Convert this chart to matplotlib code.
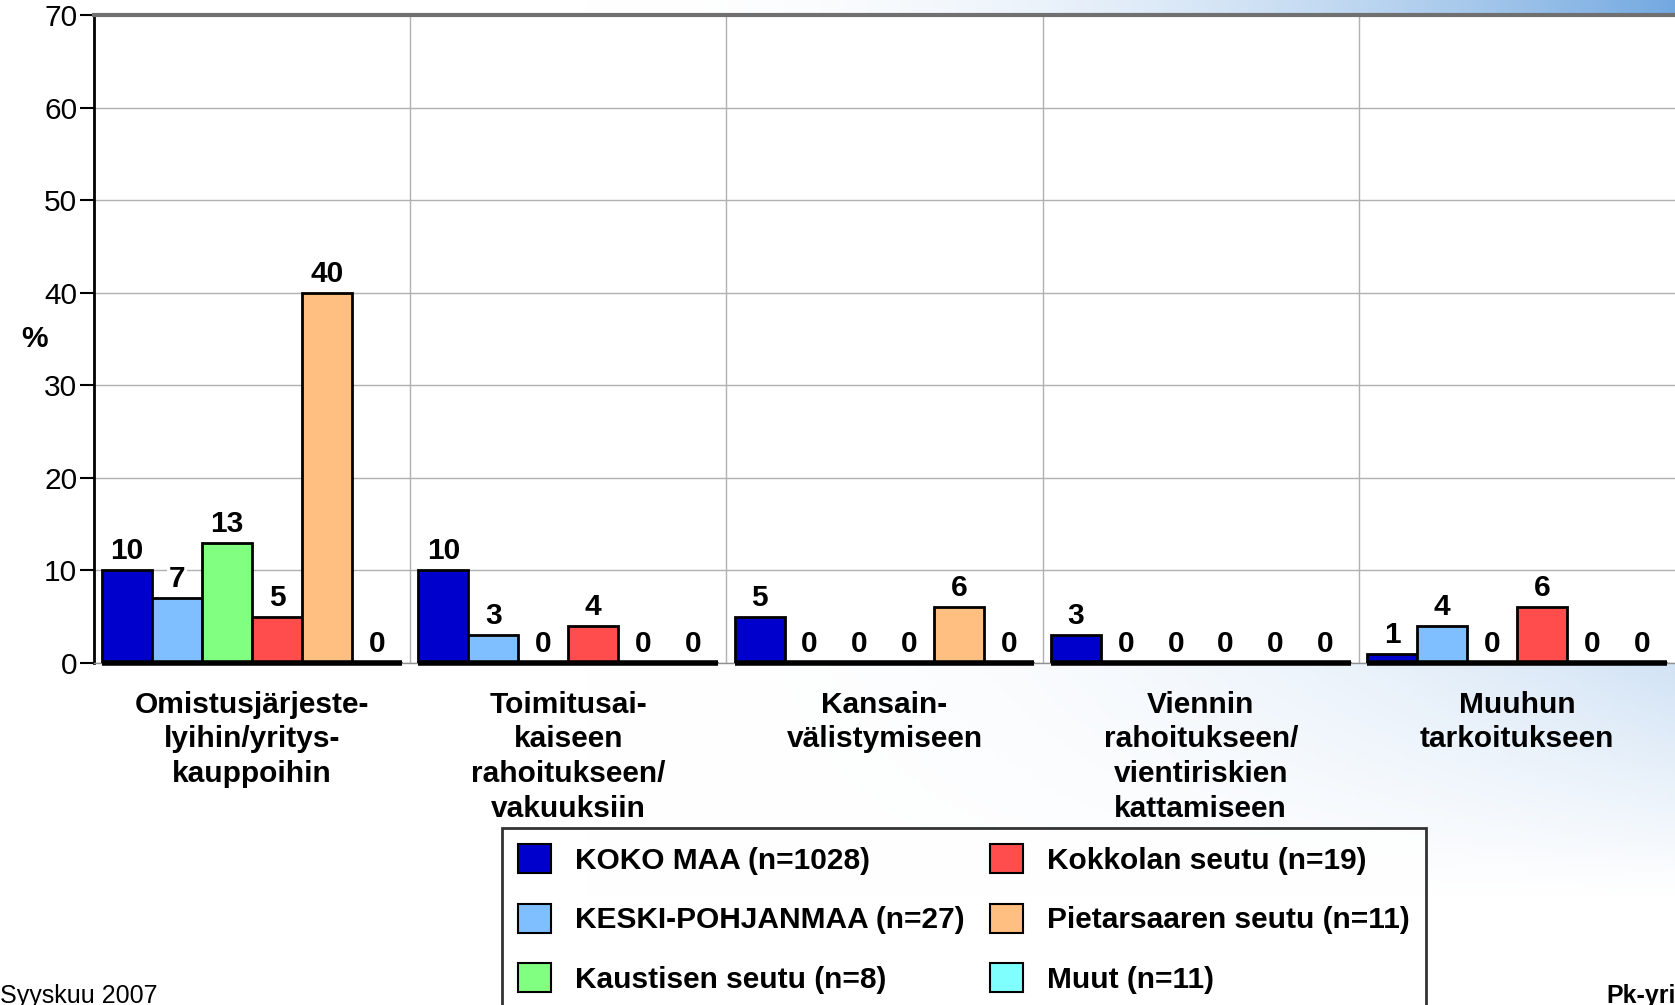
import numpy as np
import matplotlib
matplotlib.use("Agg")
from matplotlib import pyplot as plt
from matplotlib.patches import Patch

plt.rcParams['font.family'] = ['Liberation Sans', 'DejaVu Sans']

# data
categories = [
    "Omistusjärjeste-\nlyihin/yritys-\nkauppoihin",
    "Toimitusai-\nkaiseen\nrahoitukseen/\nvakuuksiin",
    "Kansain-\nvälistymiseen",
    "Viennin\nrahoitukseen/\nvientiriskien\nkattamiseen",
    "Muuhun\ntarkoitukseen",
]
series_names = [
    "KOKO MAA (n=1028)",
    "KESKI-POHJANMAA (n=27)",
    "Kaustisen seutu (n=8)",
    "Kokkolan seutu (n=19)",
    "Pietarsaaren seutu (n=11)",
    "Muut (n=11)",
]
koko_maa = [10, 10, 5, 3, 1]
keski_pohjanmaa = [7, 3, 0, 0, 4]
kaustinen = [13, 0, 0, 0, 0]
kokkola = [5, 4, 0, 0, 6]
pietarsaari = [40, 0, 6, 0, 0]
muut = [0, 0, 0, 0, 0]
yticks = [0, 10, 20, 30, 40, 50, 60, 70]

colors = ['#0000CC', '#80BFFF', '#80FF80', '#FF4D4D', '#FFBF80', '#80FFFF']
all_series = [koko_maa, keski_pohjanmaa, kaustinen, kokkola, pietarsaari, muut]

FS = 21.5
W, H = 1675, 1005
fig = plt.figure(figsize=(W / 100, H / 100), dpi=100)

# background gradient (slide template)
bg = fig.add_axes([0, 0, 1, 1], zorder=-10)
gx, gy = np.meshgrid(np.linspace(0, 1, 400), np.linspace(0, 1, 240))
t = np.clip((gx - 0.35) / 0.65, 0, 1) ** 2.2 * np.clip(1.25 - gy * 1.4, 0, 1)
t = t + np.clip((gx - 0.86) / 0.14, 0, 1) ** 2 * np.exp(-((gy - 0.34) / 0.09) ** 2) * 0.45
t = np.clip(t, 0, 1)
blue = np.array([0.45, 0.66, 0.88])
img = (1 - t[..., None]) * np.ones(3) + t[..., None] * blue
bg.imshow(img, extent=[0, 1, 0, 1], aspect='auto', origin='upper')
bg.set_axis_off()

ax = fig.add_axes([94 / W, 342 / H, 1 - 94 / W, 648 / H])
ax.set_facecolor('white')

x = np.arange(len(categories))
bw = 0.158
for i, (vals, col) in enumerate(zip(all_series, colors)):
    pos = x + (i - 2.5) * bw
    ax.bar(pos, vals, width=bw, color=col, edgecolor='black', linewidth=2, zorder=3)
    for p, v in zip(pos, vals):
        ax.annotate(str(v), (p, v), xytext=(0, 8), textcoords='offset points',
                    ha='center', va='baseline', fontsize=FS, fontweight='bold',
                    zorder=4,
                    bbox=dict(boxstyle='square,pad=0.05', fc='white', ec='none'))

# thick base line under each group
ax.hlines(np.zeros(len(categories)), x - 3 * bw, x + 3 * bw, colors='black',
          linewidth=4, zorder=3.5, clip_on=False)

ax.set_xlim(-0.5, len(categories) - 0.5)
ax.set_ylim(0, 70)
ax.set_yticks(yticks)
ax.tick_params(axis='y', labelsize=FS, length=10, width=1.5, pad=2)
ax.set_xticks(x)
ax.set_xticklabels(categories, fontsize=FS, fontweight='bold', linespacing=1.3)
ax.tick_params(axis='x', length=0, pad=20)

ax.set_xticks(np.arange(0.5, len(categories) - 0.5), minor=True)
ax.grid(True, axis='y', color='#b0b0b0', linewidth=1, zorder=0)
ax.grid(True, axis='x', which='minor', color='#b0b0b0', linewidth=1, zorder=0)
ax.tick_params(axis='x', which='minor', length=0)

ax.spines['left'].set_linewidth(2)
ax.spines['top'].set_color('#707070')
ax.spines['top'].set_linewidth(3)
ax.spines['right'].set_visible(False)
ax.spines['bottom'].set_color('#909090')
ax.spines['bottom'].set_linewidth(1)

fig.text(21 / W, 1 - 339 / H, "%", fontsize=FS, fontweight='bold', ha='left', va='center')

handles = [Patch(facecolor=c, edgecolor='black', linewidth=1.5) for c in colors]
leg = fig.legend(handles, series_names, ncol=2, loc='upper left',
                 bbox_to_anchor=(502 / W, 1 - 828 / H),
                 prop=dict(size=FS, weight='bold'), frameon=True, fancybox=False,
                 handlelength=1.1, handleheight=1.1, handletextpad=0.8,
                 labelspacing=0.97, columnspacing=0.85, borderpad=0.55, borderaxespad=0)
leg.get_frame().set_edgecolor('black')
leg.get_frame().set_linewidth(2)

fig.text(0, 2 / H, "Syyskuu 2007", fontsize=18, ha='left', va='baseline')
fig.text(1606 / W, 2 / H, "Pk-yrit", fontsize=18, fontweight='bold', ha='left', va='baseline')

fig.savefig("out.png", dpi=100)
